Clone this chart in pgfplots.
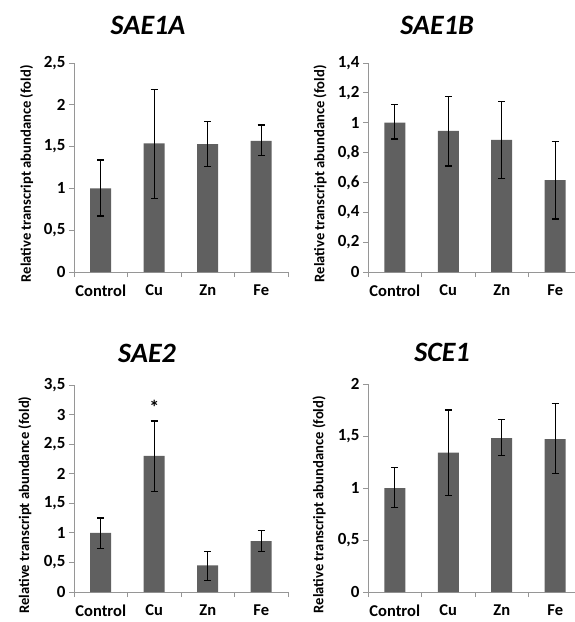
\documentclass[border=0pt]{standalone}
\usepackage{fontspec}
\setmainfont{Carlito}
\usepackage{pgfplots}
\pgfplotsset{compat=1.18}
\definecolor{barcol}{RGB}{96,96,96}
\definecolor{axgray}{RGB}{150,150,150}
\pgfplotsset{
  panel/.style={
    width=214pt, height=207pt, scale only axis, anchor=south west,
    axis lines*=left, clip=false,
    axis line style={draw=axgray, line width=0.9pt},
    xmin=-0.5, xmax=3.5, ymin=0,
    xtick={0,1,2,3}, xticklabels={Control,Cu,Zn,Fe},
    minor xtick={-0.5,0.5,1.5,2.5,3.5},
    major x tick style={draw=none},
    minor x tick style={draw=axgray, line width=0.9pt},
    y tick style={draw=axgray, line width=0.9pt},
    tick align=outside, major tick length=5pt, minor tick length=5pt,
    /pgf/number format/assume math mode=true,
    /pgf/number format/use comma,
    ticklabel style={font=\bfseries\fontsize{16.5}{16.5}\selectfont},
    yticklabel style={font=\bfseries\fontsize{17}{17}\selectfont},
    xticklabel style={yshift=-4pt},
    ylabel={Relative transcript abundance (fold)},
    ylabel style={font=\bfseries\fontsize{14.6}{14.6}\selectfont, anchor=center},
  },
  bars/.style={ybar, bar width=21pt, fill=barcol, draw=none,
    error bars/.cd, y dir=both, y explicit,
    error bar style={black, line width=1.35pt},
    error mark options={rotate=90, mark size=3.5pt, line width=1.35pt, black}},
}
\begin{document}
\begin{tikzpicture}
\path[use as bounding box] (0,0) rectangle (574pt,-622pt);
% SAE1A
\begin{axis}[panel, at={(74pt,-272pt)}, height=209pt, ymax=2.5, ytick={0,0.5,...,2.5},
  ylabel style={at={(axis description cs:-0.222,0.47)}}]
\addplot[bars] coordinates {
 (0,1.00) += (0,0.34) -= (0,0.33)
 (1,1.54) += (0,0.64) -= (0,0.66)
 (2,1.53) += (0,0.27) -= (0,0.27)
 (3,1.57) += (0,0.19) -= (0,0.18)
};
\end{axis}
% SAE1B
\begin{axis}[panel, at={(368pt,-272pt)}, height=209pt, ymax=1.4, ytick={0,0.2,...,1.4},
  ylabel style={at={(axis description cs:-0.224,0.47)}}]
\addplot[bars] coordinates {
 (0,1.000) += (0,0.120) -= (0,0.110)
 (1,0.945) += (0,0.230) -= (0,0.235)
 (2,0.885) += (0,0.255) -= (0,0.260)
 (3,0.615) += (0,0.260) -= (0,0.260)
};
\end{axis}
% SAE2
\begin{axis}[panel, at={(74pt,-592pt)}, ymax=3.5, ytick={0,0.5,...,3.5},
  ylabel style={at={(axis description cs:-0.23,0.42)}}]
\addplot[bars] coordinates {
 (0,1.00) += (0,0.25) -= (0,0.26)
 (1,2.30) += (0,0.59) -= (0,0.60)
 (2,0.45) += (0,0.24) -= (0,0.25)
 (3,0.86) += (0,0.18) -= (0,0.18)
};
\node[font=\bfseries\fontsize{20}{20}\selectfont] at (axis cs:1,3.12) {*};
\end{axis}
% SCE1
\begin{axis}[panel, at={(368pt,-592pt)}, height=208pt, ymax=2, ytick={0,0.5,...,2},
  ylabel style={at={(axis description cs:-0.229,0.42)}}]
\addplot[bars] coordinates {
 (0,1.00) += (0,0.20) -= (0,0.19)
 (1,1.34) += (0,0.41) -= (0,0.41)
 (2,1.48) += (0,0.18) -= (0,0.17)
 (3,1.47) += (0,0.34) -= (0,0.33)
};
\end{axis}
% titles
\node[font=\bfseries\itshape\fontsize{28}{28}\selectfont] at (148pt,-25pt) {SAE1A};
\node[font=\bfseries\itshape\fontsize{28}{28}\selectfont] at (437pt,-25pt) {SAE1B};
\node[font=\bfseries\itshape\fontsize{28}{28}\selectfont] at (147pt,-353pt) {SAE2};
\node[font=\bfseries\itshape\fontsize{28}{28}\selectfont] at (442pt,-352pt) {SCE1};
\end{tikzpicture}
\end{document}
